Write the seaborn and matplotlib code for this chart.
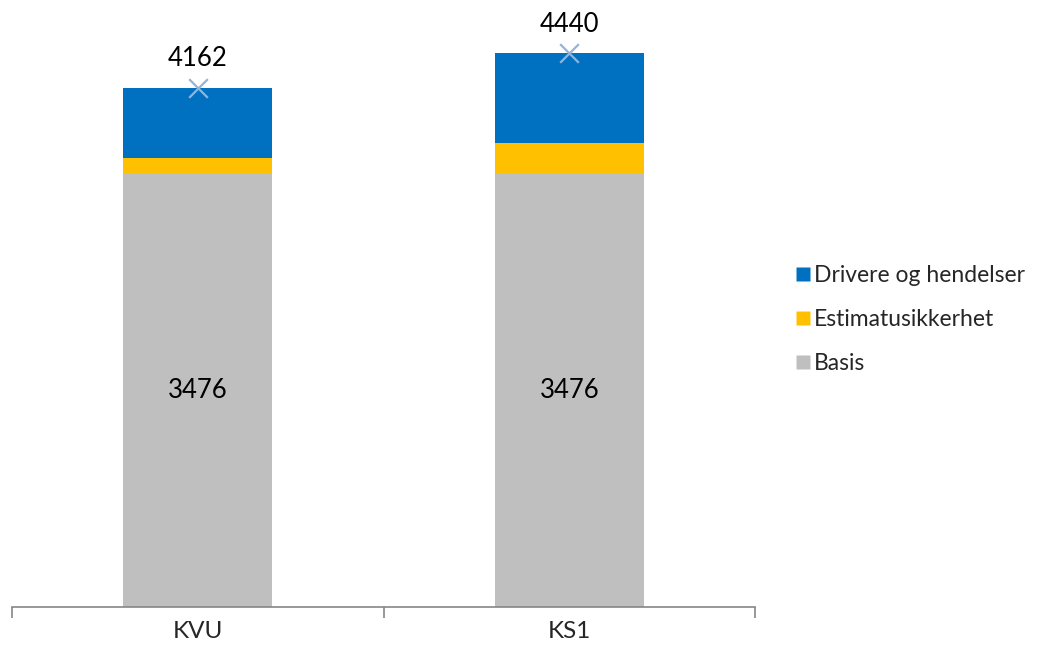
import matplotlib
matplotlib.use("Agg")
import matplotlib.pyplot as plt
from matplotlib.lines import Line2D
import seaborn as sns
import numpy as np
import pandas as pd

categories = ["KVU", "KS1"]
basis = [3476, 3476]
estimatusikkerhet = [120, 240]
totals = [4162, 4440]
drivere = [t - b - e for t, b, e in zip(totals, basis, estimatusikkerhet)]

series_names = ["Drivere og hendelser", "Estimatusikkerhet", "Basis"]
colors = {"Basis": "#BFBFBF", "Estimatusikkerhet": "#FFC000", "Drivere og hendelser": "#0070C0"}

sns.set_theme(style="white")
plt.rcParams["font.family"] = ["Lato", "DejaVu Sans"]

W, H = 1037, 646
fig = plt.figure(figsize=(W / 100, H / 100), dpi=100)
ax = fig.add_axes([12 / W, (H - 606.7) / H, (755 - 12) / W, 561 / H])

# cumulative heights: draw the tallest layer first so lower layers sit on top
cum_basis = np.array(basis, dtype=float)
cum_est = cum_basis + np.array(estimatusikkerhet)
cum_tot = cum_est + np.array(drivere)
df = pd.DataFrame({"kategori": categories, "Basis": cum_basis,
                   "Estimatusikkerhet": cum_est, "Drivere og hendelser": cum_tot})

for name in ["Drivere og hendelser", "Estimatusikkerhet", "Basis"]:
    sns.barplot(data=df, x="kategori", y=name, color=colors[name], width=0.4,
                saturation=1, ax=ax, edgecolor="none", linewidth=0)

# total markers
sns.scatterplot(x=categories, y=totals, marker="x", s=180, color="#95B3D7",
                linewidth=1.6, ax=ax, zorder=5, clip_on=False, legend=False)

fs = 18.5
text_kw = dict(ha="center", va="center", fontsize=fs, color="black")
for i, (b, t) in enumerate(zip(basis, totals)):
    ax.text(i, b / 2, f"{b}", **text_kw)
    ax.annotate(f"{t}", (i, t), xytext=(0, 21), textcoords="offset points",
                annotation_clip=False, **text_kw)

ax.set_xlim(-0.5, 1.5)
ax.set_ylim(0, 4500)
ax.set_xlabel("")
ax.set_ylabel("")
ax.set_yticks([])
for s in ["top", "right", "left"]:
    ax.spines[s].set_visible(False)
ax.spines["bottom"].set_color("#868686")
ax.spines["bottom"].set_linewidth(1.2)

# category boundary ticks, labels at the bar centres
ax.set_xticks([-0.5, 0.5, 1.5])
ax.set_xticklabels([])
ax.set_xticks([0, 1], minor=True)
ax.set_xticklabels(categories, minor=True, fontsize=17.5)
ax.tick_params(axis="x", which="major", direction="out", length=8, width=1.2,
               color="#868686", bottom=True)
ax.tick_params(axis="x", which="minor", length=0, pad=10)

handles = [Line2D([0], [0], marker="s", linestyle="none", markersize=10.5,
                  markerfacecolor=colors[n], markeredgecolor="none") for n in series_names]
fig.legend(handles, series_names, loc="upper left", bbox_to_anchor=(784 / W, 1 - 254 / H),
           frameon=False, fontsize=16.5, handlelength=0.7, handletextpad=0.1,
           labelspacing=1.0, borderpad=0)

fig.savefig("out.png", dpi=100)
